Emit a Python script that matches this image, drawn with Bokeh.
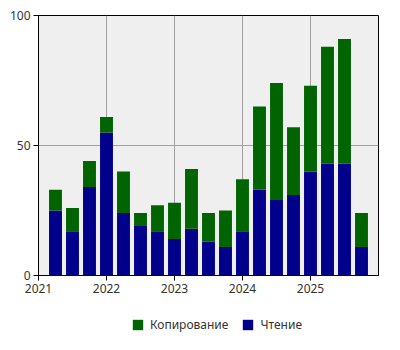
from bokeh.plotting import figure
from bokeh.models import ColumnDataSource, Legend, LegendItem, FixedTicker, Range1d
from bokeh.layouts import column
from bokeh.embed import file_html
from bokeh.resources import INLINE

periods = [2021.25, 2021.5, 2021.75, 2022.0, 2022.25, 2022.5, 2022.75, 2023.0, 2023.25,
           2023.5, 2023.75, 2024.0, 2024.25, 2024.5, 2024.75, 2025.0, 2025.25, 2025.5, 2025.75]
reading = [25, 17, 34, 55, 24, 19, 17, 14, 18, 13, 11, 17, 33, 29, 31, 40, 43, 43, 11]
copying = [8, 9, 10, 6, 16, 5, 10, 14, 23, 11, 14, 20, 32, 45, 26, 33, 45, 48, 13]
year_ticks = [2021, 2022, 2023, 2024, 2025]
y_ticks = [0, 50, 100]
series_names = ["Копирование", "Чтение"]
series_colors = ["#006400", "#00008B"]

src = ColumnDataSource(dict(x=periods, read=reading, copy=copying))

p = figure(width=400, height=305, output_backend="svg", toolbar_location=None,
           x_range=Range1d(2021, 2026), y_range=Range1d(0, 100),
           min_border_left=38, min_border_right=22, min_border_top=15, min_border_bottom=30)

rs = p.vbar_stack(["read", "copy"], x="x", width=0.19, source=src,
                  color=[series_colors[1], series_colors[0]], line_color=None)

font = "Noto Sans"
p.background_fill_color = "#EFEFEF"
p.border_fill_color = "white"
p.outline_line_color = "black"
p.outline_line_width = 1

p.xaxis.ticker = FixedTicker(ticks=year_ticks)
p.yaxis.ticker = FixedTicker(ticks=y_ticks)
for ax in (p.xaxis[0], p.yaxis[0]):
    ax.axis_line_color = "black"
    ax.major_tick_line_color = "black"
    ax.major_tick_out = 5
    ax.major_tick_in = 0
    ax.minor_tick_line_color = None
    ax.major_label_text_font = font
    ax.major_label_text_font_size = "12px"
    ax.major_label_text_color = "#333333"
    ax.major_label_standoff = 3

p.xgrid.ticker = FixedTicker(ticks=year_ticks)
p.ygrid.ticker = FixedTicker(ticks=y_ticks)
p.xgrid.grid_line_color = "#A0A0A0"
p.ygrid.grid_line_color = "#A0A0A0"

# legend strip below the chart; swatch bars have zero height so nothing is drawn
pl = figure(width=400, height=42, output_backend="svg", toolbar_location=None,
            x_axis_location=None, y_axis_location=None,
            x_range=Range1d(0, 1), y_range=Range1d(0, 1), min_border=0)
pl.outline_line_color = None
pl.background_fill_color = "white"
pl.border_fill_color = "white"
pl.grid.visible = False
items = []
for name, col in zip(series_names, series_colors):
    r = pl.vbar(x=[0.5], top=[0], bottom=[0], width=0.0, fill_color=col, line_color=None)
    items.append(LegendItem(label=name, renderers=[r]))

legend = Legend(items=items, orientation="horizontal", location=(93, 14))
legend.label_text_font = font
legend.label_text_font_size = "12px"
legend.label_text_color = "#333333"
legend.glyph_width = 13
legend.glyph_height = 13
legend.label_standoff = 6
legend.label_height = 13
legend.border_line_color = None
legend.background_fill_alpha = 0
legend.spacing = 13
legend.padding = 0
legend.margin = 0
pl.add_layout(legend, "center")

layout = column(p, pl, spacing=0)
open("out.html", "w").write(file_html(layout, INLINE))
